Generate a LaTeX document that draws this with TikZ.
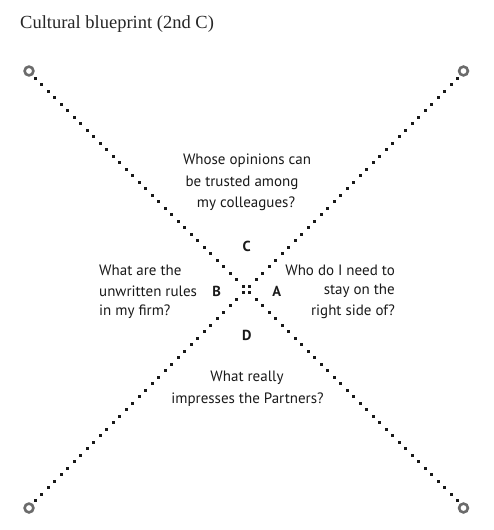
\documentclass[tikz,border=0pt]{standalone}
\usepackage{fontspec}
\usetikzlibrary{calc}
\setmainfont{Liberation Serif}
\newfontfamily\qfont{PT Sans}
\begin{document}
\begin{tikzpicture}[x=1pt,y=-1pt,
  ring/.style={circle,draw=black!58,line width=2.6pt,minimum size=8.8pt,inner sep=0pt},
  qtext/.style={font=\qfont\fontsize{15}{20}\selectfont,inner sep=0pt,text=black!90},
  lbl/.style={font=\qfont\bfseries\fontsize{14.5}{18}\selectfont,inner sep=0pt,text=black!90},
  title/.style={font=\fontsize{18.5}{22}\selectfont,inner sep=0pt,text=black!85,anchor=base west}]
\useasboundingbox (0,0) rectangle (493,530);
\node[title] (ttl) at (20,28.3) {Cultural blueprint (2nd C)};
\coordinate (c) at (246.7,289.3);
\node[ring] (tl) at (29,71) {};
\node[ring] (tr) at (463.5,71) {};
\node[ring] (bl) at (29,508) {};
\node[ring] (br) at (463.5,508) {};
% dotted diagonals (pixel aligned square dots)
\foreach \sx/\sy in {1/1,1/-1,-1/1,-1/-1}{
  \foreach \k in {0,...,32}{
    \pgfmathsetmacro\dx{round(246.7+\sx*(\k+0.5)*6.5-1.5)}
    \pgfmathsetmacro\dy{round(289.3+\sy*(\k+0.5)*6.5-1.5)}
    \fill[black!90] (\dx,\dy) rectangle ++(3,3);
  }
}
% labels
\node[lbl] (C) at (246.7,246) {C};
\node[lbl] (B) at (216.7,291) {B};
\node[lbl] (A) at (276.7,291) {A};
\node[lbl] (D) at (246.7,335) {D};
% top question
\node[qtext] (t1) at (247,161) {Whose opinions can};
\node[qtext] (t2) at (242,183) {be trusted among};
\node[qtext] (t3) at (246,204) {my colleagues?};
% left question
\node[qtext,anchor=west] (l1) at (99,270) {What are the};
\node[qtext,anchor=west] (l2) at (99,291) {unwritten rules};
\node[qtext,anchor=west] (l3) at (99,312) {in my firm?};
% right question
\node[qtext,anchor=east] (r1) at (395,270) {Who do I need to};
\node[qtext,anchor=east] (r2) at (395,291) {stay on the};
\node[qtext,anchor=east] (r3) at (395,312) {right side of?};
% bottom question
\node[qtext] (b1) at (247,378) {What really};
\node[qtext] (b2) at (247.5,400) {impresses the Partners?};
\end{tikzpicture}
\end{document}
